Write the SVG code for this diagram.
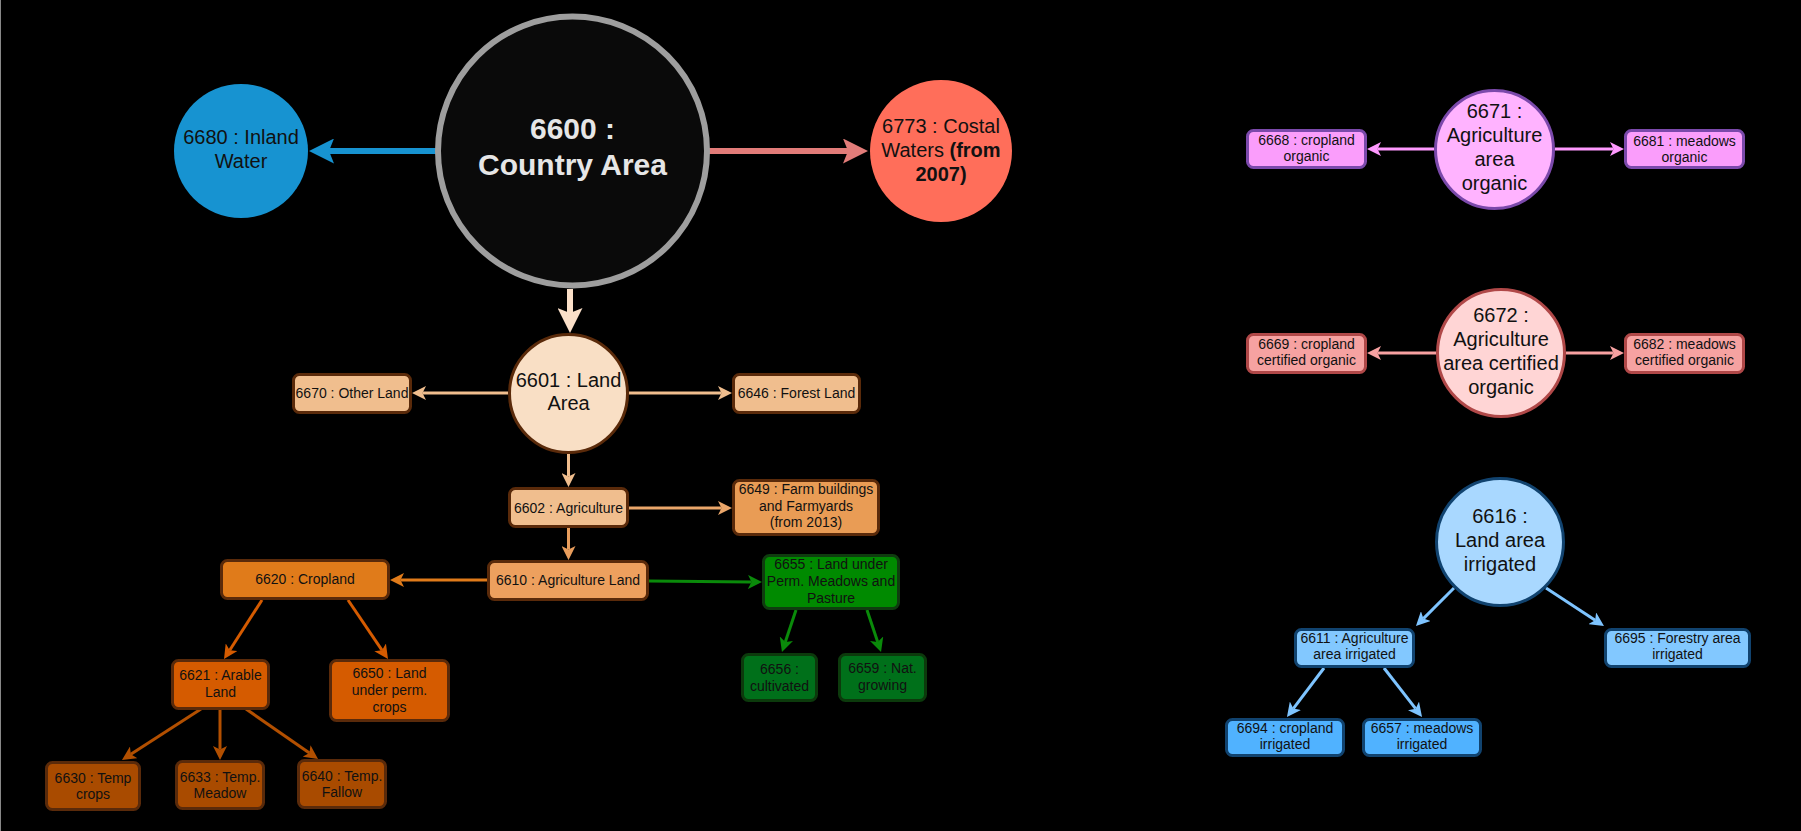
<svg xmlns="http://www.w3.org/2000/svg" width="1801" height="831" viewBox="0 0 1801 831">
<style>
text{font-family:"Liberation Sans",Arial,Helvetica,sans-serif;fill:#111;text-anchor:middle}
.t14{font-size:14px}
.t20{font-size:20px}
.big{font-size:30px;font-weight:bold;fill:#e6e6e6}
.bx{stroke-width:3}
.brown{stroke:#5a2a0a}
.ln{fill:none;stroke-width:3}
.thick{fill:none;stroke-width:6}
</style>
<defs>
<marker id="mBlue" markerUnits="userSpaceOnUse" viewBox="0 0 25 25" markerWidth="25" markerHeight="25" refX="5" refY="12.5" orient="auto"><path d="M0,0 L25,12.5 L0,25 L5,12.5 Z" fill="#1793d1"/></marker>
<marker id="mRed" markerUnits="userSpaceOnUse" viewBox="0 0 25 25" markerWidth="25" markerHeight="25" refX="5" refY="12.5" orient="auto"><path d="M0,0 L25,12.5 L0,25 L5,12.5 Z" fill="#e27c79"/></marker>
<marker id="mPeachT" markerUnits="userSpaceOnUse" viewBox="0 0 25 25" markerWidth="25" markerHeight="25" refX="5" refY="12.5" orient="auto"><path d="M0,0 L25,12.5 L0,25 L5,12.5 Z" fill="#fbe0c9"/></marker>
<marker id="mPeach" markerUnits="userSpaceOnUse" viewBox="0 0 14 14" markerWidth="14" markerHeight="14" refX="3.5" refY="7" orient="auto"><path d="M0,0 L14,7 L0,14 L3.5,7 Z" fill="#f0be8e"/></marker>
<marker id="mOr1" markerUnits="userSpaceOnUse" viewBox="0 0 14 14" markerWidth="14" markerHeight="14" refX="3.5" refY="7" orient="auto"><path d="M0,0 L14,7 L0,14 L3.5,7 Z" fill="#eaa66a"/></marker>
<marker id="mOr2" markerUnits="userSpaceOnUse" viewBox="0 0 14 14" markerWidth="14" markerHeight="14" refX="3.5" refY="7" orient="auto"><path d="M0,0 L14,7 L0,14 L3.5,7 Z" fill="#e89d5c"/></marker>
<marker id="mOr3" markerUnits="userSpaceOnUse" viewBox="0 0 14 14" markerWidth="14" markerHeight="14" refX="3.5" refY="7" orient="auto"><path d="M0,0 L14,7 L0,14 L3.5,7 Z" fill="#e07b1a"/></marker>
<marker id="mOr4" markerUnits="userSpaceOnUse" viewBox="0 0 14 14" markerWidth="14" markerHeight="14" refX="3.5" refY="7" orient="auto"><path d="M0,0 L14,7 L0,14 L3.5,7 Z" fill="#d55b00"/></marker>
<marker id="mOr5" markerUnits="userSpaceOnUse" viewBox="0 0 14 14" markerWidth="14" markerHeight="14" refX="3.5" refY="7" orient="auto"><path d="M0,0 L14,7 L0,14 L3.5,7 Z" fill="#b24f00"/></marker>
<marker id="mGreen" markerUnits="userSpaceOnUse" viewBox="0 0 14 14" markerWidth="14" markerHeight="14" refX="3.5" refY="7" orient="auto"><path d="M0,0 L14,7 L0,14 L3.5,7 Z" fill="#0a8a0a"/></marker>
<marker id="mMag" markerUnits="userSpaceOnUse" viewBox="0 0 14 14" markerWidth="14" markerHeight="14" refX="3.5" refY="7" orient="auto"><path d="M0,0 L14,7 L0,14 L3.5,7 Z" fill="#ff99ff"/></marker>
<marker id="mPink" markerUnits="userSpaceOnUse" viewBox="0 0 14 14" markerWidth="14" markerHeight="14" refX="3.5" refY="7" orient="auto"><path d="M0,0 L14,7 L0,14 L3.5,7 Z" fill="#f7a1a1"/></marker>
<marker id="mLB" markerUnits="userSpaceOnUse" viewBox="0 0 14 14" markerWidth="14" markerHeight="14" refX="3.5" refY="7" orient="auto"><path d="M0,0 L14,7 L0,14 L3.5,7 Z" fill="#7ec4ff"/></marker>
</defs>
<rect x="0" y="0" width="1801" height="831" fill="#000"/>
<line x1="0.5" y1="0" x2="0.5" y2="831" stroke="#888" stroke-width="1"/>

<g id="connectors">
<path class="thick" stroke="#1793d1" d="M436,151 L329,151" marker-end="url(#mBlue)"/>
<path class="thick" stroke="#e27c79" d="M709,151 L848,151" marker-end="url(#mRed)"/>
<path class="thick" stroke="#fbe0c9" d="M570,289 L570,313" marker-end="url(#mPeachT)"/>
<path class="ln" stroke="#f0be8e" d="M508,393 L422.5,393" marker-end="url(#mPeach)"/>
<path class="ln" stroke="#f0be8e" d="M629,393 L721.5,393" marker-end="url(#mPeach)"/>
<path class="ln" stroke="#f0be8e" d="M568.5,454 L568.5,476.5" marker-end="url(#mPeach)"/>
<path class="ln" stroke="#eaa66a" d="M629,508 L721.5,508" marker-end="url(#mOr1)"/>
<path class="ln" stroke="#e89d5c" d="M568.5,528 L568.5,549.5" marker-end="url(#mOr2)"/>
<path class="ln" stroke="#e07b1a" d="M487,580 L400.5,580" marker-end="url(#mOr3)"/>
<path class="ln" stroke="#0a8a0a" d="M649,581 L751.5,582" marker-end="url(#mGreen)"/>
<path class="ln" stroke="#0a8a0a" d="M796,610 L785.3,642" marker-end="url(#mGreen)"/>
<path class="ln" stroke="#0a8a0a" d="M867,610 L877.7,642" marker-end="url(#mGreen)"/>
<path class="ln" stroke="#d55b00" d="M262,600 L229.7,650.2" marker-end="url(#mOr4)"/>
<path class="ln" stroke="#d55b00" d="M348,600 L382.1,650.3" marker-end="url(#mOr4)"/>
<path class="ln" stroke="#b24f00" d="M201,709 L130.8,754.3" marker-end="url(#mOr5)"/>
<path class="ln" stroke="#b24f00" d="M220,709 L220,749.5" marker-end="url(#mOr5)"/>
<path class="ln" stroke="#b24f00" d="M246,709 L309.4,753" marker-end="url(#mOr5)"/>
<path class="ln" stroke="#ff99ff" d="M1434,149 L1377.5,149" marker-end="url(#mMag)"/>
<path class="ln" stroke="#ff99ff" d="M1555,149 L1613.5,149" marker-end="url(#mMag)"/>
<path class="ln" stroke="#f7a1a1" d="M1436,353 L1377.5,353" marker-end="url(#mPink)"/>
<path class="ln" stroke="#f7a1a1" d="M1566,353 L1613.5,353" marker-end="url(#mPink)"/>
<path class="ln" stroke="#7ec4ff" d="M1454,588 L1423.4,618.6" marker-end="url(#mLB)"/>
<path class="ln" stroke="#7ec4ff" d="M1546,588 L1595.2,620.2" marker-end="url(#mLB)"/>
<path class="ln" stroke="#7ec4ff" d="M1324,668 L1293.3,708.6" marker-end="url(#mLB)"/>
<path class="ln" stroke="#7ec4ff" d="M1384,668 L1415.6,708.7" marker-end="url(#mLB)"/>
</g>

<g id="n6600">
<circle cx="572.5" cy="151" r="134.5" fill="#0a0a0a" stroke="#9e9e9e" stroke-width="6"/>
<text class="big" x="572.5" y="139">6600 :</text>
<text class="big" x="572.5" y="175">Country Area</text>
</g>
<g id="n6680">
<circle cx="241" cy="151" r="67" fill="#1793d1"/>
<text class="t20" x="241" y="144">6680 : Inland</text>
<text class="t20" x="241" y="168">Water</text>
</g>
<g id="n6773">
<circle cx="941" cy="151" r="71" fill="#ff6e5a"/>
<text class="t20" x="941" y="133">6773 : Costal</text>
<text class="t20" x="941" y="157"><tspan>Waters </tspan><tspan font-weight="bold">(from</tspan></text>
<text class="t20" x="941" y="181" font-weight="bold">2007)</text>
</g>
<g id="n6601">
<circle cx="568.5" cy="393.5" r="59" fill="#f9dfc5" stroke="#5a2a0a" stroke-width="3"/>
<text class="t20" x="568.5" y="387">6601 : Land</text>
<text class="t20" x="568.5" y="410">Area</text>
</g>
<g id="n6670">
<rect class="bx brown" x="293.5" y="374.5" width="117" height="38" rx="6" fill="#f0be8e"/>
<text class="t14" x="352" y="398">6670 : Other Land</text>
</g>
<g id="n6646">
<rect class="bx brown" x="733.5" y="374.5" width="126" height="38" rx="6" fill="#f0be8e"/>
<text class="t14" x="796.5" y="398">6646 : Forest Land</text>
</g>
<g id="n6602">
<rect class="bx brown" x="509.5" y="488.5" width="118" height="38" rx="6" fill="#f0be8e"/>
<text class="t14" x="568.5" y="513">6602 : Agriculture</text>
</g>
<g id="n6649">
<rect class="bx brown" x="733.5" y="480.5" width="145" height="54" rx="6" fill="#e99c55"/>
<text class="t14" x="806" y="494">6649 : Farm buildings</text>
<text class="t14" x="806" y="511">and Farmyards</text>
<text class="t14" x="806" y="527">(from 2013)</text>
</g>
<g id="n6610">
<rect class="bx brown" x="488.5" y="561.5" width="159" height="38" rx="6" fill="#eda05e"/>
<text class="t14" x="568" y="585">6610 : Agriculture Land</text>
</g>
<g id="n6620">
<rect class="bx brown" x="221.5" y="560.5" width="167" height="38" rx="6" fill="#e07b1a"/>
<text class="t14" x="305" y="584">6620 : Cropland</text>
</g>
<g id="n6655">
<rect class="bx" stroke="#0f3d0f" x="763.5" y="555.5" width="135" height="53" rx="6" fill="#008a00"/>
<text class="t14" x="831" y="569">6655 : Land under</text>
<text class="t14" x="831" y="586">Perm. Meadows and</text>
<text class="t14" x="831" y="603">Pasture</text>
</g>
<g id="n6656">
<rect class="bx" stroke="#0c3a0c" x="742.5" y="654.5" width="74" height="46" rx="6" fill="#00701a"/>
<text class="t14" x="779.5" y="674">6656 :</text>
<text class="t14" x="779.5" y="691">cultivated</text>
</g>
<g id="n6659">
<rect class="bx" stroke="#0c3a0c" x="839.5" y="654.5" width="86" height="46" rx="6" fill="#00701a"/>
<text class="t14" x="882.5" y="673">6659 : Nat.</text>
<text class="t14" x="882.5" y="690">growing</text>
</g>
<g id="n6621">
<rect class="bx brown" x="172.5" y="660.5" width="96" height="48" rx="6" fill="#d55b00"/>
<text class="t14" x="220.5" y="680">6621 : Arable</text>
<text class="t14" x="220.5" y="697">Land</text>
</g>
<g id="n6650">
<rect class="bx brown" x="330.5" y="660.5" width="118" height="60" rx="6" fill="#d55b00"/>
<text class="t14" x="389.5" y="678">6650 : Land</text>
<text class="t14" x="389.5" y="695">under perm.</text>
<text class="t14" x="389.5" y="712">crops</text>
</g>
<g id="n6630">
<rect class="bx brown" x="46.5" y="762.5" width="93" height="47" rx="6" fill="#a94b00"/>
<text class="t14" x="93" y="783">6630 : Temp</text>
<text class="t14" x="93" y="799">crops</text>
</g>
<g id="n6633">
<rect class="bx brown" x="176.5" y="761.5" width="87" height="47" rx="6" fill="#a94b00"/>
<text class="t14" x="220" y="782">6633 : Temp.</text>
<text class="t14" x="220" y="798">Meadow</text>
</g>
<g id="n6640">
<rect class="bx brown" x="298.5" y="760.5" width="87" height="47" rx="6" fill="#a94b00"/>
<text class="t14" x="342" y="781">6640 : Temp.</text>
<text class="t14" x="342" y="797">Fallow</text>
</g>

<g id="n6671">
<circle cx="1494.5" cy="149.5" r="59" fill="#ffb3ff" stroke="#7b49ab" stroke-width="3"/>
<text class="t20" x="1494.5" y="118">6671 :</text>
<text class="t20" x="1494.5" y="142">Agriculture</text>
<text class="t20" x="1494.5" y="166">area</text>
<text class="t20" x="1494.5" y="190">organic</text>
</g>
<g id="n6668">
<rect class="bx" stroke="#7b49ab" x="1247.5" y="130.5" width="118" height="37" rx="6" fill="#fa9dfb"/>
<text class="t14" x="1306.5" y="145">6668 : cropland</text>
<text class="t14" x="1306.5" y="161">organic</text>
</g>
<g id="n6681">
<rect class="bx" stroke="#7b49ab" x="1625.5" y="130.5" width="118" height="37" rx="6" fill="#fa9dfb"/>
<text class="t14" x="1684.5" y="146">6681 : meadows</text>
<text class="t14" x="1684.5" y="162">organic</text>
</g>
<g id="n6672">
<circle cx="1501" cy="353" r="63.5" fill="#ffd5d5" stroke="#b04848" stroke-width="3"/>
<text class="t20" x="1501" y="322">6672 :</text>
<text class="t20" x="1501" y="346">Agriculture</text>
<text class="t20" x="1501" y="370">area certified</text>
<text class="t20" x="1501" y="394">organic</text>
</g>
<g id="n6669">
<rect class="bx" stroke="#b04848" x="1247.5" y="334.5" width="118" height="38" rx="6" fill="#f6a2a1"/>
<text class="t14" x="1306.5" y="349">6669 : cropland</text>
<text class="t14" x="1306.5" y="365">certified organic</text>
</g>
<g id="n6682">
<rect class="bx" stroke="#b04848" x="1625.5" y="334.5" width="118" height="38" rx="6" fill="#f6a2a1"/>
<text class="t14" x="1684.5" y="349">6682 : meadows</text>
<text class="t14" x="1684.5" y="365">certified organic</text>
</g>
<g id="n6616">
<circle cx="1500" cy="542" r="63.5" fill="#a9d8ff" stroke="#11436f" stroke-width="3"/>
<text class="t20" x="1500" y="523">6616 :</text>
<text class="t20" x="1500" y="547">Land area</text>
<text class="t20" x="1500" y="571">irrigated</text>
</g>
<g id="n6611">
<rect class="bx" stroke="#11436f" x="1295.5" y="629.5" width="118" height="37" rx="6" fill="#82c8ff"/>
<text class="t14" x="1354.5" y="643">6611 : Agriculture</text>
<text class="t14" x="1354.5" y="659">area irrigated</text>
</g>
<g id="n6695">
<rect class="bx" stroke="#11436f" x="1605.5" y="629.5" width="144" height="37" rx="6" fill="#82c8ff"/>
<text class="t14" x="1677.5" y="643">6695 : Forestry area</text>
<text class="t14" x="1677.5" y="659">irrigated</text>
</g>
<g id="n6694">
<rect class="bx" stroke="#11436f" x="1226.5" y="719.5" width="117" height="36" rx="6" fill="#50b2ff"/>
<text class="t14" x="1285" y="733">6694 : cropland</text>
<text class="t14" x="1285" y="749">irrigated</text>
</g>
<g id="n6657">
<rect class="bx" stroke="#11436f" x="1363.5" y="719.5" width="117" height="36" rx="6" fill="#50b2ff"/>
<text class="t14" x="1422" y="733">6657 : meadows</text>
<text class="t14" x="1422" y="749">irrigated</text>
</g>
</svg>
